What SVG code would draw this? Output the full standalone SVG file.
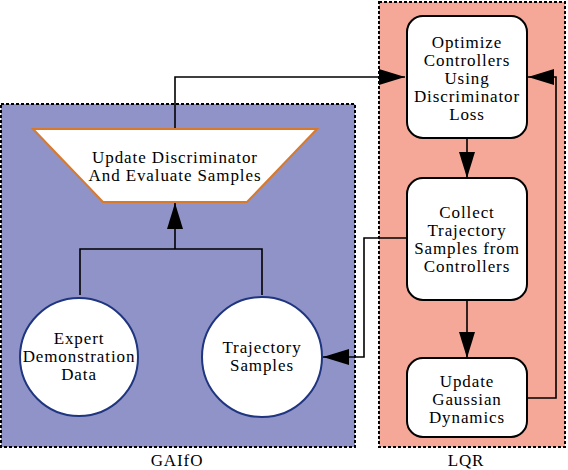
<svg xmlns="http://www.w3.org/2000/svg" width="568" height="470" viewBox="0 0 568 470">
<defs>
<marker id="ah" markerUnits="userSpaceOnUse" markerWidth="26" markerHeight="16" refX="26" refY="8" orient="auto">
<path d="M0,0 L26,8 L0,16 z" fill="#000"/>
</marker>
</defs>
<style>
text{font-family:"Liberation Serif","DejaVu Serif",serif;font-size:17px;letter-spacing:0.9px;text-anchor:middle;fill:#000}
.grp{stroke:#000;stroke-width:2;stroke-dasharray:3,2}
.box{fill:#fff;stroke:#000;stroke-width:2}
.circ{fill:#fff;stroke:#1f3580;stroke-width:2}
.conn{fill:none;stroke:#000;stroke-width:1.6}
</style>
<g id="gaifo-group">
<rect x="1" y="104" width="354" height="343" fill="#8f93c7" class="grp"/>
<text x="177" y="466">GAIfO</text>
</g>
<g id="lqr-group">
<rect x="379" y="2" width="186" height="445" fill="#f5a898" class="grp"/>
<text x="466" y="466">LQR</text>
</g>
<g id="connectors">
<polyline class="conn" points="175,129 175,77 405,77" marker-end="url(#ah)"/>
<polyline class="conn" points="80,295 80,249 262,249 262,295"/>
<line class="conn" x1="175" y1="249" x2="175" y2="203" marker-end="url(#ah)"/>
<polyline class="conn" points="407,238 364,238 364,357 323,357" marker-end="url(#ah)"/>
<line class="conn" x1="467" y1="138" x2="467" y2="178" marker-end="url(#ah)"/>
<line class="conn" x1="467" y1="300" x2="467" y2="358" marker-end="url(#ah)"/>
<polyline class="conn" points="527,398 556,398 556,77 528,77" marker-end="url(#ah)"/>
</g>
<g id="update-discriminator">
<polygon points="33,129 317,129 247,202 103,202" fill="#fff" stroke="#d9792b" stroke-width="2"/>
<text x="175" y="163">Update Discriminator</text>
<text x="175" y="181">And Evaluate Samples</text>
</g>
<g id="expert-data">
<circle class="circ" cx="79" cy="357" r="59"/>
<text x="79" y="344">Expert</text>
<text x="79" y="362">Demonstration</text>
<text x="79" y="380">Data</text>
</g>
<g id="trajectory-samples">
<circle class="circ" cx="262" cy="357" r="60"/>
<text x="262" y="353">Trajectory</text>
<text x="262" y="371">Samples</text>
</g>
<g id="optimize-controllers">
<rect class="box" x="407" y="16" width="120" height="122" rx="16"/>
<text x="467" y="48">Optimize</text>
<text x="467" y="66">Controllers</text>
<text x="467" y="84">Using</text>
<text x="467" y="102">Discriminator</text>
<text x="467" y="120">Loss</text>
</g>
<g id="collect-trajectory">
<rect class="box" x="407" y="178" width="120" height="122" rx="16"/>
<text x="467" y="218">Collect</text>
<text x="467" y="236">Trajectory</text>
<text x="467" y="254">Samples from</text>
<text x="467" y="272">Controllers</text>
</g>
<g id="update-gaussian">
<rect class="box" x="407" y="358" width="120" height="79" rx="16"/>
<text x="467" y="387">Update</text>
<text x="467" y="405">Gaussian</text>
<text x="467" y="423">Dynamics</text>
</g>
</svg>
